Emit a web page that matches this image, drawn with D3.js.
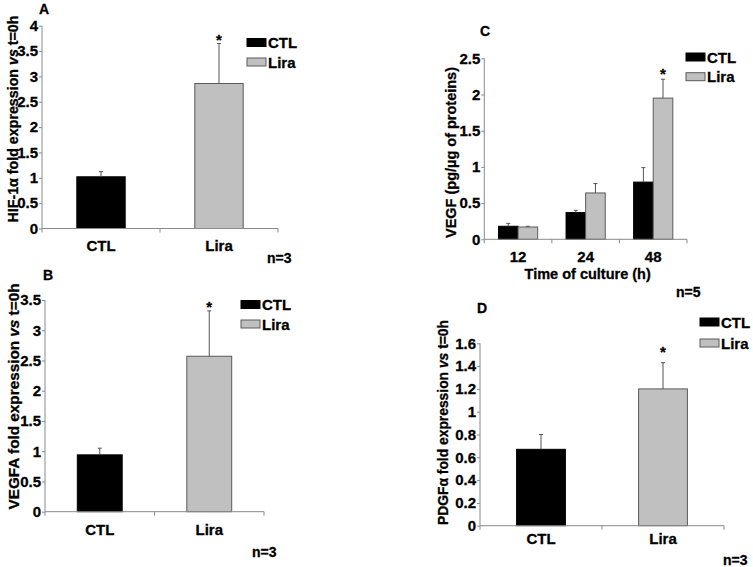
<!DOCTYPE html>
<html>
<head>
<meta charset="utf-8">
<script src="https://cdn.jsdelivr.net/npm/d3@7"></script>
<style>
  body { margin: 0; background: #fff; }
  svg { display: block; font-family: "Liberation Sans", Arial, Helvetica, sans-serif; font-weight: bold; }
  svg text { font-weight: bold; stroke: #000; stroke-width: 0.3px; }
</style>
</head>
<body>
<svg id="chart" width="753" height="567"></svg>
<script>
// ---------- DATA ----------
const seriesNames = ["CTL", "Lira"];

// Panel A: HIF-1α
const catsA = ["CTL", "Lira"];
const valsA = [1.02, 2.86];
const errA = [0.10, 0.79];
const ticksA = [0, 0.5, 1, 1.5, 2, 2.5, 3, 3.5, 4];

// Panel B: VEGFA
const catsB = ["CTL", "Lira"];
const valsB = [0.94, 2.57];
const errB = [0.11, 0.75];
const ticksB = [0, 0.5, 1, 1.5, 2, 2.5, 3, 3.5];

// Panel C: VEGF protein over time
const timesC = ["12", "24", "48"];
const ctlC = [0.18, 0.37, 0.79];
const ctlErrC = [0.04, 0.03, 0.20];
const liraC = [0.17, 0.64, 1.95];
const liraErrC = [0.01, 0.13, 0.26];
const ticksC = [0, 0.5, 1, 1.5, 2, 2.5];

// Panel D: PDGFα
const catsD = ["CTL", "Lira"];
const valsD = [0.67, 1.20];
const errD = [0.13, 0.23];
const ticksD = [0, 0.2, 0.4, 0.6, 0.8, 1, 1.2, 1.4, 1.6];

// ---------- DRAWING ----------
const svg = d3.select("#chart");
const fills = { CTL: "#000000", Lira: "#c0c0c0" };
const strokes = { CTL: "#000000", Lira: "#5a5a5a" };
const axisColor = "#8a8a8a";
const errColor = "#555555";
const FONT = "'Liberation Sans', Arial, Helvetica, sans-serif";

function yAxis(g, y, ticks, x0) {
  const ax = g.append("g").attr("transform", `translate(${x0},0)`)
    .call(d3.axisLeft(y).tickValues(ticks).tickSize(3).tickPadding(1).tickFormat(d3.format("~g")));
  ax.attr("font-size", 15).attr("font-family", FONT).attr("font-weight", "bold");
  ax.select(".domain").attr("stroke", axisColor).attr("d", `M0,${y.range()[0]}V${y.range()[1]}`);
  ax.selectAll(".tick line").attr("stroke", axisColor);
  ax.selectAll(".tick text").attr("fill", "#000").attr("font-size", 15).attr("font-weight", "bold");
}

function xAxis(g, x, y0, labelY) {
  const r = x.range();
  g.append("line").attr("x1", r[0]).attr("x2", r[1]).attr("y1", y0).attr("y2", y0)
    .attr("stroke", axisColor);
  const b2 = x.domain().map((d, i) => r[0] + x.step() * i);
  b2.push(r[1]);
  g.selectAll(".xt").data(b2).join("line")
    .attr("x1", d => d).attr("x2", d => d).attr("y1", y0).attr("y2", y0 + 4)
    .attr("stroke", axisColor);
  g.selectAll(".xl").data(x.domain()).join("text")
    .attr("x", d => x(d) + x.bandwidth() / 2).attr("y", labelY)
    .attr("text-anchor", "middle").attr("font-size", 15).text(d => d);
}

function errBar(g, cx, yTop, yBar) {
  g.append("line").attr("x1", cx).attr("x2", cx).attr("y1", yBar).attr("y2", yTop)
    .attr("stroke", errColor).attr("stroke-width", 1);
  g.append("line").attr("x1", cx - 2).attr("x2", cx + 2).attr("y1", yTop).attr("y2", yTop)
    .attr("stroke", errColor).attr("stroke-width", 1);
}

function yLabel(g, x, cy, len, size, pre, post) {
  const t = g.append("text").attr("transform", `translate(${x},${cy}) rotate(-90)`)
    .attr("text-anchor", "middle").attr("font-size", size)
    .attr("textLength", len).attr("lengthAdjust", "spacingAndGlyphs");
  t.append("tspan").text(pre);
  if (post !== undefined) {
    t.append("tspan").attr("font-style", "italic").text("vs");
    t.append("tspan").text(post);
  }
}

function legend(g, x, y1, y2) {
  [y1, y2].forEach((yy, i) => {
    const s = seriesNames[i];
    g.append("rect").attr("x", x).attr("y", yy).attr("width", 19).attr("height", 8)
      .attr("fill", fills[s]).attr("stroke", strokes[s]).attr("stroke-width", 1);
    g.append("text").attr("x", x + 21).attr("y", yy + 9.5).attr("font-size", 15).text(s);
  });
}

function simplePanel(p) {
  const g = svg.append("g");
  const y = d3.scaleLinear().domain([0, p.ticks[p.ticks.length - 1]]).range([p.y0, p.y1]);
  const x = d3.scaleBand().domain(p.cats).range([p.x0, p.x1]).paddingInner(p.pad).paddingOuter(p.pad / 2);
  p.cats.forEach((c, i) => {
    const v = p.vals[i];
    g.append("rect").attr("x", x(c)).attr("y", y(v)).attr("width", x.bandwidth()).attr("height", y(0) - y(v))
      .attr("fill", fills[seriesNames[i]]).attr("stroke", strokes[seriesNames[i]]).attr("stroke-width", 1);
    errBar(g, x(c) + x.bandwidth() / 2, y(v + p.errs[i]), y(v));
  });
  const li = p.cats.length - 1;
  g.append("text").attr("x", x(p.cats[li]) + x.bandwidth() / 2).attr("y", y(p.vals[li] + p.errs[li]) - p.starOff)
    .attr("text-anchor", "middle").attr("font-size", 15).text("*");
  yAxis(g, y, p.ticks, p.x0);
  xAxis(g, x, p.y0, p.catY);
  yLabel(g, p.labX, p.labCY, p.labLen, p.labSize, p.labPre, p.labPost);
  legend(g, p.legX, p.legY1, p.legY2);
  g.append("text").attr("x", p.letX).attr("y", p.letY).attr("font-size", 14).text(p.letter);
  g.append("text").attr("x", p.nX).attr("y", p.nY).attr("font-size", 14).text(p.nText);
}

simplePanel({
  cats: catsA, vals: valsA, errs: errA, ticks: ticksA,
  x0: 42, x1: 278, y0: 228.5, y1: 25.7, pad: 0.59, catY: 251, starOff: -2,
  labX: 18, labCY: 119, labLen: 207, labSize: 14, labPre: "HIF-1α fold expression ", labPost: " t=0h",
  legX: 247, legY1: 38.5, legY2: 58, letter: "A", letX: 39, letY: 14, nText: "n=3", nX: 267, nY: 263
});

simplePanel({
  cats: catsB, vals: valsB, errs: errB, ticks: ticksB,
  x0: 45, x1: 264, y0: 511.7, y1: 300, pad: 0.59, catY: 535, starOff: -1,
  labX: 19, labCY: 396.5, labLen: 226, labSize: 15, labPre: "VEGFA fold expression ", labPost: " t=0h",
  legX: 241, legY1: 300.5, legY2: 320, letter: "B", letX: 43, letY: 280, nText: "n=3", nX: 252, nY: 557
});

// Panel C: grouped
(function () {
  const g = svg.append("g");
  const x0 = 484.3, x1 = 687, yb = 239.3, yt = 58.3;
  const y = d3.scaleLinear().domain([0, 2.5]).range([yb, yt]);
  const x = d3.scaleBand().domain(timesC).range([x0, x1]).paddingInner(0.42).paddingOuter(0.21);
  const xs = d3.scaleBand().domain(seriesNames).range([0, x.bandwidth()]);
  const series = [{ s: "CTL", v: ctlC, e: ctlErrC }, { s: "Lira", v: liraC, e: liraErrC }];
  series.forEach(ser => {
    timesC.forEach((t, i) => {
      const bx = x(t) + xs(ser.s), v = ser.v[i];
      g.append("rect").attr("x", bx).attr("y", y(v)).attr("width", xs.bandwidth()).attr("height", yb - y(v))
        .attr("fill", fills[ser.s]).attr("stroke", strokes[ser.s]).attr("stroke-width", 1);
      errBar(g, bx + xs.bandwidth() / 2, y(v + ser.e[i]), y(v));
    });
  });
  g.append("text").attr("x", x("48") + xs("Lira") + xs.bandwidth() / 2).attr("y", y(liraC[2] + liraErrC[2]))
    .attr("text-anchor", "middle").attr("font-size", 15).text("*");
  yAxis(g, y, ticksC, x0);
  xAxis(g, x, yb, 262);
  g.append("text").attr("x", 587.7).attr("y", 279).attr("text-anchor", "middle").attr("font-size", 14.5)
    .text("Time of culture (h)");
  yLabel(g, 456, 152.5, 171, 14.5, "VEGF (pg/µg of proteins)");
  legend(g, 686, 53, 72.7);
  g.append("text").attr("x", 480).attr("y", 36).attr("font-size", 14).text("C");
  g.append("text").attr("x", 676).attr("y", 297).attr("font-size", 14).text("n=5");
})();

simplePanel({
  cats: catsD, vals: valsD, errs: errD, ticks: ticksD,
  x0: 480, x1: 724, y0: 525.7, y1: 343.3, pad: 0.6, catY: 544, starOff: 6,
  labX: 448, labCY: 422.5, labLen: 205, labSize: 14, labPre: "PDGFα fold expression ", labPost: " t=0h",
  legX: 700, legY1: 318, legY2: 339, letter: "D", letX: 477, letY: 313, nText: "n=3", nX: 723, nY: 565
});
</script>
</body>
</html>
